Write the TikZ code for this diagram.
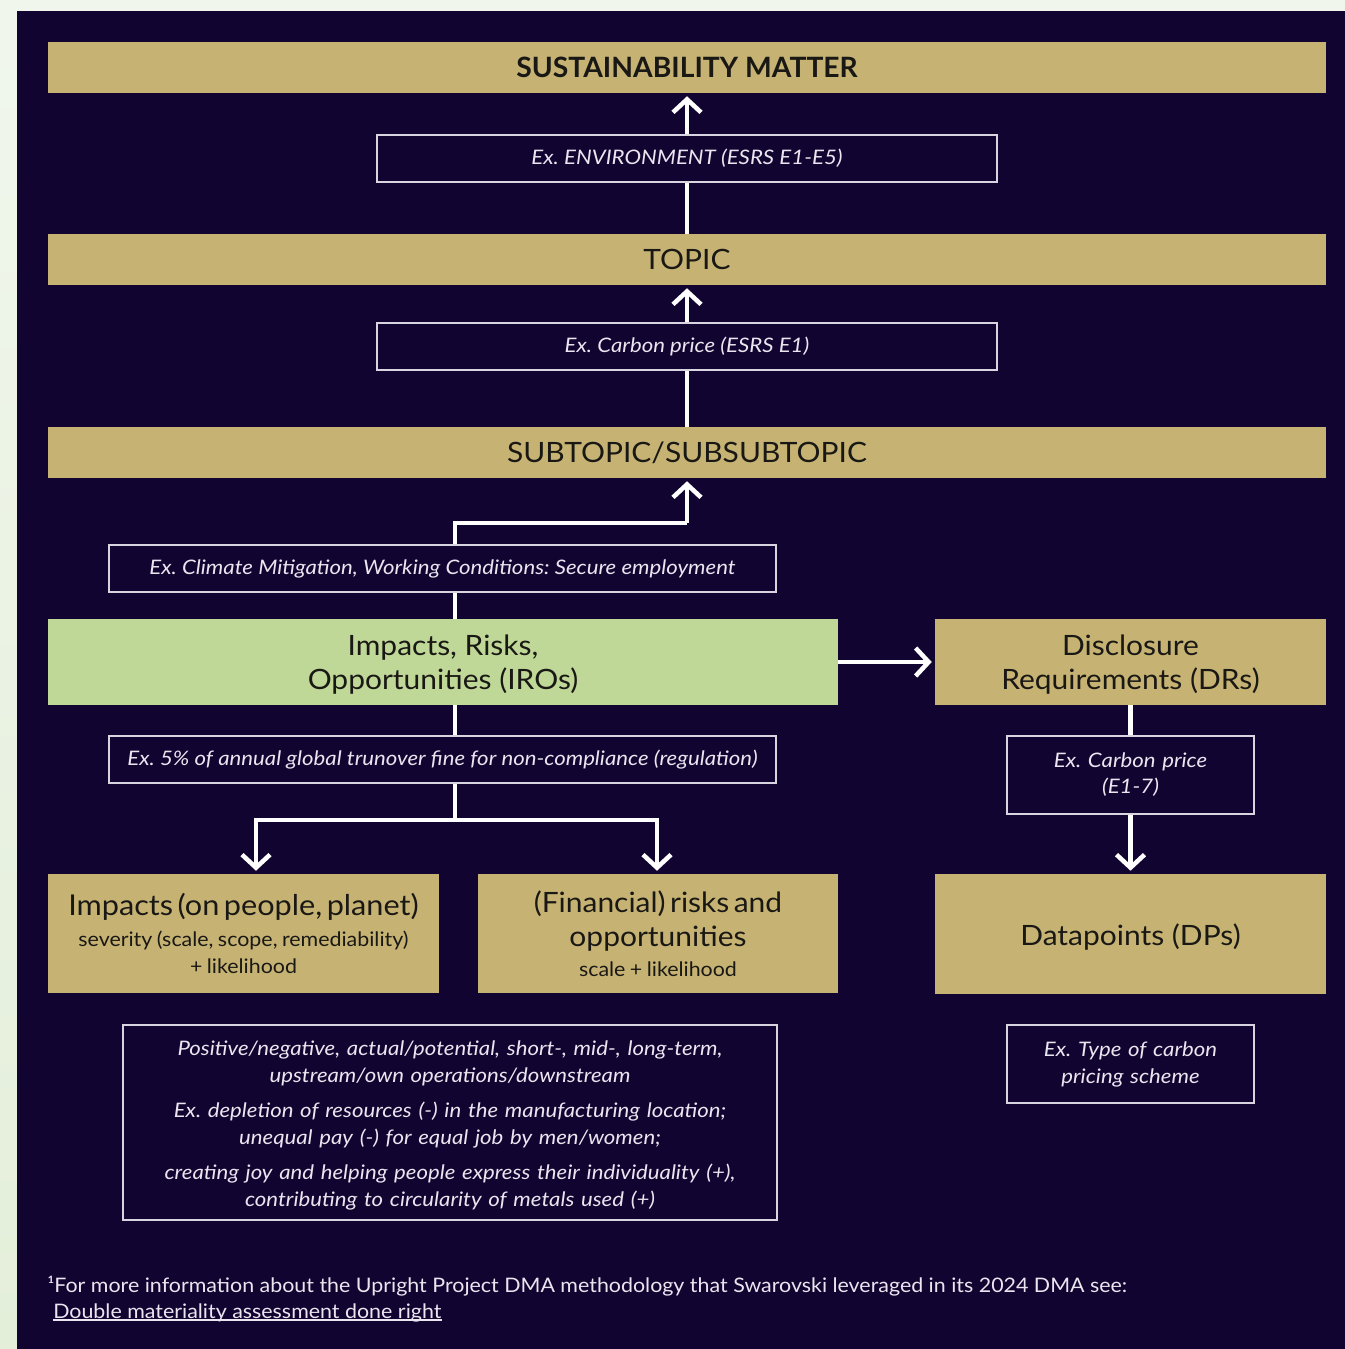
\documentclass[tikz,border=0pt]{standalone}
\usepackage{fontspec}
\setmainfont{Lato}[FakeStretch=1.07, BoldFeatures={FakeStretch=1.01}, ItalicFeatures={FakeStretch=1.11}]
\usetikzlibrary{arrows.meta}
\newdimen\pxu \pxu=0.75pt
\definecolor{darkbg}{RGB}{18,4,48}
\definecolor{outerbg}{RGB}{240,246,236}
\definecolor{outerbgb}{RGB}{228,239,218}
\definecolor{gold}{RGB}{198,179,116}
\definecolor{irogreen}{RGB}{191,216,152}
\definecolor{ink}{RGB}{26,24,20}
\definecolor{pale}{RGB}{234,230,240}
\definecolor{edge}{RGB}{216,212,224}
\pgfdeclarelayer{bgfill}
\pgfdeclarelayer{lines}
\pgfsetlayers{bgfill,lines,main}
\frenchspacing
\begin{document}
\begin{tikzpicture}[x=0.75pt,y=-0.75pt,
  bar/.style={fill=gold, text=ink, inner sep=0pt, align=center,
    minimum width=1278\pxu, minimum height=51\pxu, font=\fontsize{21}{25}\selectfont},
  blk/.style={inner sep=0pt, align=center, text width=#1\pxu, minimum width=#1\pxu},
  goldblk/.style={blk=#1, fill=gold, text=ink},
  exbox/.style={draw=edge, line width=1.1pt, fill=darkbg, text=pale, inner sep=0pt,
    align=center, font=\fontsize{15}{19.5}\selectfont\itshape},
  conn/.style={draw=white, line width=3.4pt, line join=miter},
  arr/.style={conn, -{Straight Barb[length=9.75pt, width=21pt]}, shorten >=2.25pt},
  heading/.style={font=\fontsize{21}{25.5}\selectfont},
  small/.style={font=\fontsize{15}{20}\selectfont},
  inktext/.style={inner sep=0pt, align=center, text=ink, heading}
]
\begin{pgfonlayer}{bgfill}
\fill[outerbg] (0,0) rectangle (1345,1349);
\shade[top color=outerbg, bottom color=outerbgb] (0,11) rectangle (17,1349);
\fill[darkbg] (17,11) rectangle (1345,1349);
\end{pgfonlayer}

% bars
\node[bar, font=\fontsize{21}{25}\selectfont\bfseries] (sm) at (687,67.5) {SUSTAINABILITY MATTER};
\node[exbox, minimum width=620\pxu, minimum height=47\pxu] (ex1) at (687,158.5) {Ex. ENVIRONMENT (ESRS E1-E5)};
\node[bar] (topic) at (687,259.5) {TOPIC};
\node[exbox, minimum width=620\pxu, minimum height=47\pxu] (ex2) at (687,346.5) {Ex. Carbon price (ESRS E1)};
\node[bar] (sub) at (687,452.5) {SUBTOPIC/SUBSUBTOPIC};
\node[exbox, minimum width=667\pxu, minimum height=47\pxu] (ex3) at (442.5,568.5) {Ex. Climate Mitigation, Working Conditions: Secure employment};

% IRO and DR
\node[fill=irogreen, minimum width=790\pxu, minimum height=86\pxu, inner sep=0pt] (iro) at (443,662) {};
\node[inktext] (irotext) at ([yshift=-2.5\pxu]iro.center) {Impacts, Risks,\\ Opportunities (IROs)};
\node[fill=gold, minimum width=391\pxu, minimum height=86\pxu, inner sep=0pt] (dr) at (1130.5,662) {};
\node[inktext] (drtext) at ([yshift=-2.5\pxu]dr.center) {Disclosure\\ Requirements (DRs)};

\node[exbox, minimum width=667\pxu, minimum height=47\pxu] (ex4) at (442.5,759.5) {Ex. 5\% of annual global trunover fine for non-compliance (regulation)};
\node[exbox, text width=247\pxu, minimum height=78\pxu] (ex5) at (1130.5,775) {Ex. Carbon price\par (E1-7)\par};

% bottom row
\node[goldblk=391, minimum height=119\pxu] (imp) at (243.5,933.5)
  {{\fontsize{21.5}{26}\selectfont Impacts (on people, planet)\par}\vspace{4\pxu}
   {\fontsize{15}{20}\selectfont severity (scale, scope, remediability)\par + likelihood\par}};
\node[goldblk=360, minimum height=119\pxu] (fin) at (658,933.5)
  {{\fontsize{21}{25.5}\selectfont (Financial) risks and\par opportunities\par}\vspace{3\pxu}
   {\fontsize{15}{20}\selectfont scale + likelihood\par}};
\node[fill=gold, minimum width=391\pxu, minimum height=120\pxu, inner sep=0pt] (dp) at (1130.5,934) {};
\node[inktext] (dptext) at ([yshift=-3\pxu]dp.center) {Datapoints (DPs)};

\node[exbox, minimum width=654\pxu, minimum height=195\pxu] (big) at (450,1122.5) {};
\node[inner sep=0pt, text=pale, align=center, text width=654\pxu, font=\fontsize{15}{20.25}\selectfont\itshape] (bigtext) at ([yshift=-2.5\pxu]big.center)
  {Positive/negative, actual/potential, short-, mid-, long-term,\par upstream/own operations/downstream\par\vspace{8\pxu}
   Ex. depletion of resources (-) in the manufacturing location;\par unequal pay (-) for equal job by men/women;\par\vspace{8\pxu}
   creating joy and helping people express their individuality (+),\par contributing to circularity of metals used (+)\par};
\node[exbox, text width=247\pxu, minimum height=78\pxu, font=\fontsize{15}{20.25}\selectfont\itshape] (ex6) at (1130.5,1064) {Ex. Type of carbon\par pricing scheme\par};

% footnote
\node[anchor=base west, inner sep=0pt, text=pale, small] (fn1) at (47,1292)
  {¹For more information about the Upright Project DMA methodology that Swarovski leveraged in its 2024 DMA see:};
\node[anchor=base west, inner sep=0pt, text=pale, small] (fn2) at (53,1318)
  {Double materiality assessment done right};
\draw[pale, line width=1.1pt] ([yshift=-1.5pt]fn2.base west) -- ([yshift=-1.5pt]fn2.base east);

% connectors
\coordinate (c1) at (455,523);
\coordinate (c2) at (687,523);
\coordinate (d1) at (455,820);
\coordinate (dL) at (256,820);
\coordinate (dR) at (657,820);
\begin{pgfonlayer}{lines}
\draw[arr] (ex1.north) -- (sm.south);
\draw[conn] (topic.north) -- (ex1.south);
\draw[arr] (ex2.north) -- (topic.south);
\draw[conn] (sub.north) -- (ex2.south);
\draw[conn] (iro.north -| c1) -- (c1) -- (c2);
\draw[arr] (c2) -- (sub.south);
\draw[arr] (iro.east) -- (dr.west);
\draw[conn] (iro.south -| d1) -- (d1);
\draw[arr] (d1) -- (dL) -- (dL |- imp.north);
\draw[arr] (d1) -- (dR) -- (dR |- fin.north);
\draw[conn] (dr.south) -- (ex5.north);
\draw[arr] (ex5.south) -- (dp.north);
\end{pgfonlayer}
\end{tikzpicture}
\end{document}
